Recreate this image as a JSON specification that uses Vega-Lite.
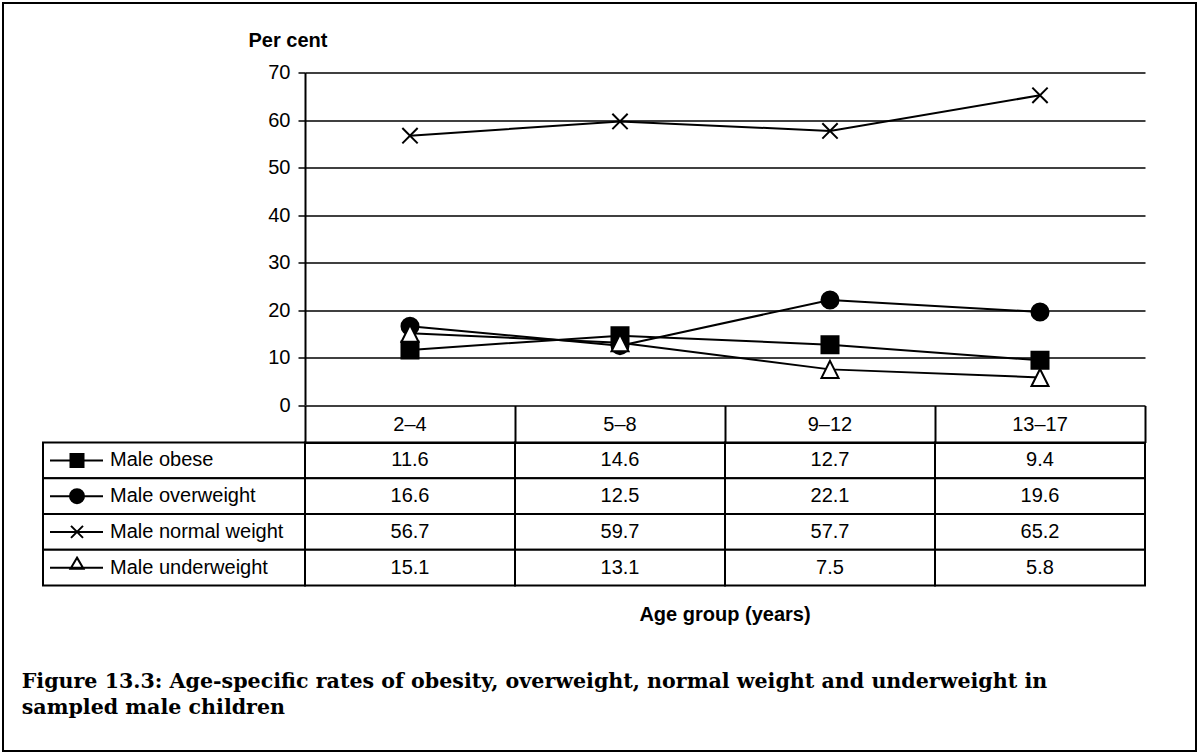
{
  "$schema": "https://vega.github.io/schema/vega-lite/v6.json",
  "padding": {"left": 2, "top": 2, "right": 0, "bottom": 0},
  "background": "white",
  "config": {
    "view": {"stroke": null},
    "font": "Liberation Sans"
  },
  "datasets": {
    "rates": [
      {"age": "2–4", "series": "Male obese", "value": 11.6},
      {"age": "5–8", "series": "Male obese", "value": 14.6},
      {"age": "9–12", "series": "Male obese", "value": 12.7},
      {"age": "13–17", "series": "Male obese", "value": 9.4},
      {"age": "2–4", "series": "Male overweight", "value": 16.6},
      {"age": "5–8", "series": "Male overweight", "value": 12.5},
      {"age": "9–12", "series": "Male overweight", "value": 22.1},
      {"age": "13–17", "series": "Male overweight", "value": 19.6},
      {"age": "2–4", "series": "Male normal weight", "value": 56.7},
      {"age": "5–8", "series": "Male normal weight", "value": 59.7},
      {"age": "9–12", "series": "Male normal weight", "value": 57.7},
      {"age": "13–17", "series": "Male normal weight", "value": 65.2},
      {"age": "2–4", "series": "Male underweight", "value": 15.1},
      {"age": "5–8", "series": "Male underweight", "value": 13.1},
      {"age": "9–12", "series": "Male underweight", "value": 7.5},
      {"age": "13–17", "series": "Male underweight", "value": 5.8}
    ],
    "series": [
      {"series": "Male obese"},
      {"series": "Male overweight"},
      {"series": "Male normal weight"},
      {"series": "Male underweight"}
    ]
  },
  "columns": 1,
  "align": "none",
  "spacing": -678.5,
  "bounds": "flush",
  "concat": [
    {
      "width": 1193,
      "height": 748,
      "view": {"stroke": "black", "strokeWidth": 2},
      "data": {"values": []},
      "mark": "point"
    },
    {
      "columns": 3,
      "align": "each",
      "spacing": {"row": 37, "column": 0},
      "bounds": "flush",
      "resolve": {"scale": {"shape": "independent", "fill": "independent"}},
      "title": {
        "text": ["Figure 13.3: Age-specific rates of obesity, overweight, normal weight and underweight in", "sampled male children"],
        "orient": "bottom",
        "anchor": "start",
        "frame": "group",
        "offset": 47,
        "dx": 18.7,
        "font": "DejaVu Serif",
        "fontSize": 20.6,
        "fontWeight": "bold",
        "color": "black",
        "lineHeight": 26
      },
      "concat": [
        {"width": 40, "height": 332.5, "data": {"values": []}, "mark": "point"},
        {"width": 262, "height": 332.5, "data": {"values": []}, "mark": "point"},
        {
          "width": 840,
          "height": 332.5,
          "data": {"name": "rates"},
          "encoding": {
            "x": {
              "field": "age", "type": "ordinal",
              "sort": ["2–4", "5–8", "9–12", "13–17"],
              "scale": {"type": "point", "padding": 0.5},
              "axis": null
            },
            "y": {
              "field": "value", "type": "quantitative",
              "scale": {"domain": [0, 70], "nice": false},
              "axis": {
                "values": [0, 10, 20, 30, 40, 50, 60, 70],
                "grid": true, "gridColor": "black", "gridWidth": 1.3, "gridOpacity": 1,
                "domainColor": "black", "domainWidth": 2,
                "tickColor": "black", "tickSize": 7, "tickWidth": 1.5,
                "labelFontSize": 20, "labelColor": "black", "labelPadding": 8,
                "title": "Per cent", "titleAngle": 0, "titleAlign": "left",
                "titleBaseline": "alphabetic", "titleX": -57, "titleY": -26.5,
                "titleFontSize": 20, "titleFontWeight": "bold", "titleColor": "black"
              }
            }
          },
          "layer": [
            {
              "mark": {"type": "line", "color": "black", "strokeWidth": 2},
              "encoding": {"detail": {"field": "series"}}
            },
            {
              "mark": {"type": "point", "filled": true, "stroke": "black", "strokeWidth": 2, "size": 290, "opacity": 1},
              "encoding": {
                "shape": {
                  "field": "series", "type": "nominal",
                  "scale": {
                    "domain": ["Male obese", "Male overweight", "Male normal weight", "Male underweight"],
                    "range": ["square", "circle", "M-0.9,-0.9L0.9,0.9M-0.9,0.9L0.9,-0.9", "M0,-1L1,1L-1,1Z"]
                  },
                  "legend": null
                },
                "fill": {
                  "field": "series", "type": "nominal",
                  "scale": {
                    "domain": ["Male obese", "Male overweight", "Male normal weight", "Male underweight"],
                    "range": ["black", "black", "black", "white"]
                  },
                  "legend": null
                }
              }
            }
          ]
        },
        {"width": 40, "height": 143, "data": {"values": []}, "mark": "point"},
        {
          "width": 262,
          "height": 143,
          "data": {"name": "series"},
          "encoding": {
            "y": {
              "field": "series", "type": "nominal",
              "sort": ["Male obese", "Male overweight", "Male normal weight", "Male underweight"],
              "scale": {"type": "band", "paddingInner": 0, "paddingOuter": 0},
              "axis": null
            }
          },
          "layer": [
            {
              "mark": {"type": "rect", "fill": "white", "stroke": "black", "strokeWidth": 2},
              "encoding": {
                "x": {"datum": 0, "type": "quantitative", "scale": {"domain": [0, 262], "nice": false, "zero": false}, "axis": null},
                "x2": {"datum": 262}
              }
            },
            {
              "mark": {"type": "point", "filled": true, "stroke": "black", "strokeWidth": 2, "size": 4, "opacity": 1},
              "encoding": {
                "x": {"datum": 34, "type": "quantitative"},
                "shape": {
                  "field": "series", "type": "nominal",
                  "scale": {
                    "domain": ["Male obese", "Male overweight", "Male normal weight", "Male underweight"],
                    "range": [
                      "M-27,0H26M-6.5,-6.5H6.5V6.5H-6.5Z",
                      "M-27,0H26M7,0A7,7,0,1,1,-7,0A7,7,0,1,1,7,0Z",
                      "M-27,0H26M-6,-6L6,6M-6,6L6,-6",
                      "M-27,0H26M0,-10L6.5,1H-6.5Z"
                    ]
                  },
                  "legend": null
                },
                "fill": {
                  "field": "series", "type": "nominal",
                  "scale": {
                    "domain": ["Male obese", "Male overweight", "Male normal weight", "Male underweight"],
                    "range": ["black", "black", "black", "white"]
                  },
                  "legend": null
                }
              }
            },
            {
              "mark": {"type": "text", "align": "left", "baseline": "middle", "fontSize": 20, "font": "Liberation Sans", "color": "black"},
              "encoding": {
                "x": {"datum": 67, "type": "quantitative"},
                "text": {"field": "series", "type": "nominal"}
              }
            }
          ]
        },
        {
          "width": 840,
          "height": 143,
          "data": {"name": "rates"},
          "title": {
            "text": "Age group (years)",
            "orient": "bottom",
            "anchor": "middle",
            "offset": 18,
            "fontSize": 20,
            "fontWeight": "bold",
            "font": "Liberation Sans",
            "color": "black"
          },
          "encoding": {
            "x": {
              "field": "age", "type": "ordinal",
              "sort": ["2–4", "5–8", "9–12", "13–17"],
              "scale": {"type": "band", "paddingInner": 0, "paddingOuter": 0},
              "axis": {
                "orient": "top", "title": null, "labelAngle": 0,
                "labelFontSize": 20, "labelColor": "black",
                "labelBaseline": "alphabetic", "labelPadding": -25,
                "tickSize": 37, "tickColor": "black", "tickWidth": 2,
                "bandPosition": 1, "tickExtra": true,
                "domainColor": "black", "domainWidth": 2
              }
            },
            "y": {
              "field": "series", "type": "nominal",
              "sort": ["Male obese", "Male overweight", "Male normal weight", "Male underweight"],
              "scale": {"type": "band", "paddingInner": 0, "paddingOuter": 0},
              "axis": null
            }
          },
          "layer": [
            {"mark": {"type": "rect", "fill": "white", "stroke": "black", "strokeWidth": 2}},
            {
              "mark": {"type": "text", "fontSize": 20, "color": "black", "baseline": "middle"},
              "encoding": {"text": {"field": "value", "type": "quantitative", "format": ".1f"}}
            }
          ]
        }
      ]
    }
  ]
}
